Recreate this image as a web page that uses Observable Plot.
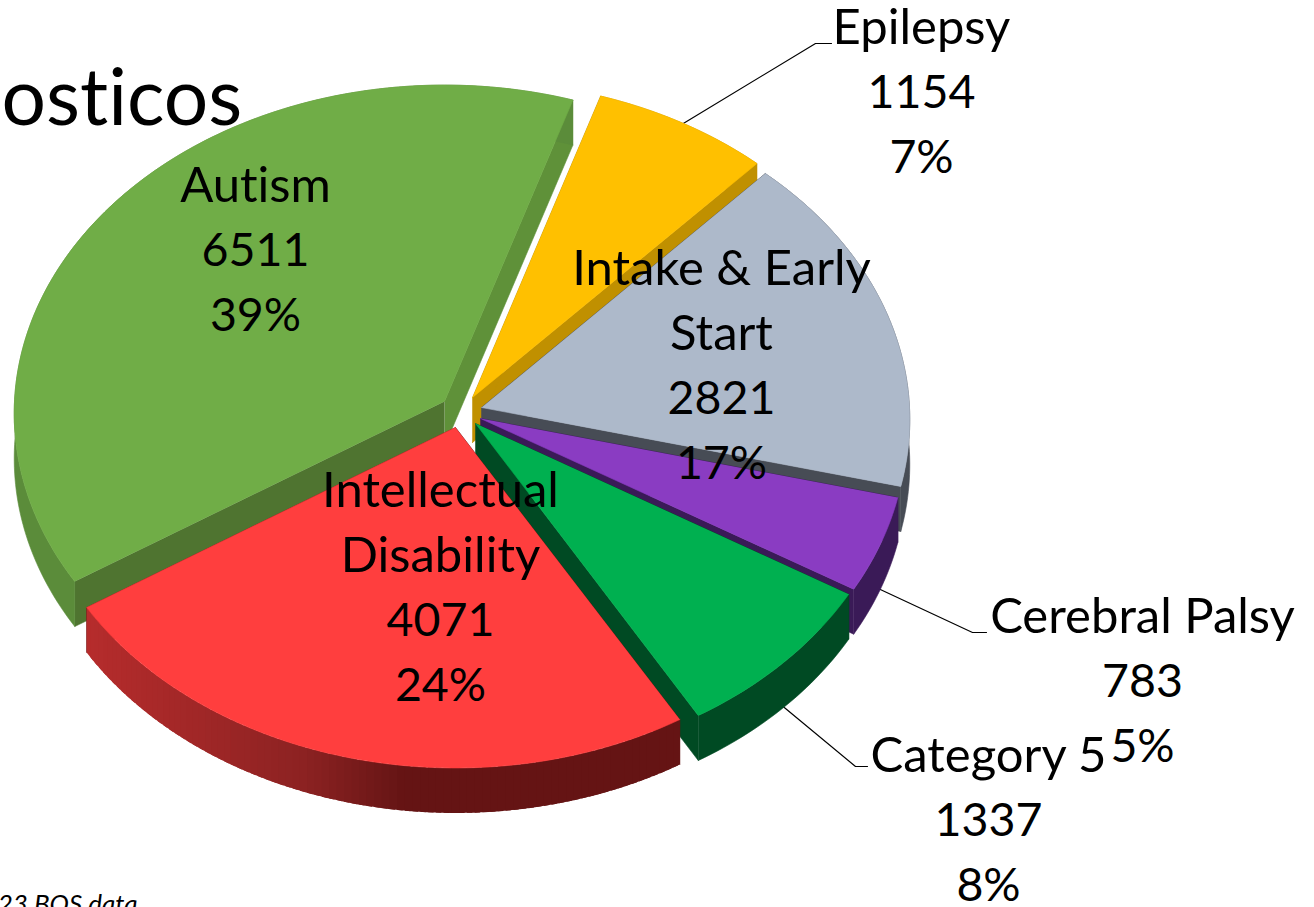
<!DOCTYPE html>
<html>
<head>
<meta charset="utf-8">
<script src="https://cdn.jsdelivr.net/npm/d3@7"></script>
<script src="https://cdn.jsdelivr.net/npm/@observablehq/plot@0.6"></script>
<style>
html,body{margin:0;padding:0;background:#fff;overflow:hidden}
svg{display:block}
svg text{font-variant-ligatures:none}
</style>
</head>
<body>
<div id="chart"></div>
<script>
// ---- data, in the order of the pie (counter-clockwise) ----
const categories = ["Autism", "Intellectual\nDisability", "Category 5", "Cerebral Palsy", "Intake & Early\nStart", "Epilepsy"];
const values = [6511, 4071, 1337, 783, 2821, 1154];

// ---- styles ----
const topColors = ["#70ad47", "#ff3e3e", "#00b050", "#8a3cc2", "#adb9ca", "#ffc000"];
const startWallColors = ["#5f9139", "#651414", "#004a23", "#3a1a57", "#474c55", "#c09000"];
const endWallColors = ["#4f7430", "#651414", "#004a23", "#3a1a57", "#474c55", "#c09000"];
const rimColors = ["#5b8c3a", null, "#004a23", "#3a1a57", "#474c55", "#c09000"];

// ---- layout of the 3-D projection ----
const apexX = [444, 455, 475, 480, 481, 472];
const apexY = [401, 427, 423, 418, 407, 397];
const radiiX = [430, 429, 426, 426, 428, 429];
const paintOrder = [0, 5, 4, 3, 2, 1];
const startAngle = 72, radiusY = 328, perspective = 0.0366, depth = 45;

// label block centres and leader elbows (in picture units)
const labelX = [255, 440, 988, 1142, 721, 921];
const labelY = [251, 588, 821, 682, 366, 93];
const lineStep = 65;
const elbowX = [null, null, 855, 972, null, 815];
const elbowY = [null, null, 766, 632, null, 43];
const leaderEndX = [null, null, 867, 986, null, 831];

const total = d3.sum(values);
const rad = Math.PI / 180;
let acc = startAngle;
const slices = values.map((v, i) => {
  const a0 = acc;
  acc += v / total * 360;
  return {i, a0, a1: acc};
});

function rimPoint(i, deg, dz = 0) {
  const c = Math.cos(deg * rad), s = Math.sin(deg * rad), k = 1 + perspective * s;
  return {x: apexX[i] + radiiX[i] * c / k, y: apexY[i] - radiusY * s / k + dz};
}
function arc(i, a0, a1, dz = 0) {
  const n = Math.max(2, Math.ceil(Math.abs(a1 - a0)));
  return d3.range(n + 1).map(j => rimPoint(i, a0 + (a1 - a0) * j / n, dz));
}

const polygons = [];
let pid = 0;
function addPolygon(points, color, stroke = color) {
  const id = pid++;
  points.forEach(p => polygons.push({x: p.x, y: p.y, id, color, stroke}));
}
const redRim = d3.scaleLinear().domain([88, 300, 400]).range(["#b52c2c", "#8c2222", "#651414"]).clamp(true);

for (const i of paintOrder) {
  const {a0, a1} = slices[i];
  const apex = {x: apexX[i], y: apexY[i]};
  const apexLow = {x: apexX[i], y: apexY[i] + depth};
  // radial walls
  addPolygon([apex, rimPoint(i, a0), rimPoint(i, a0, depth), apexLow], startWallColors[i]);
  addPolygon([apex, rimPoint(i, a1), rimPoint(i, a1, depth), apexLow], endWallColors[i]);
  // outer rim
  if (rimColors[i]) {
    addPolygon([...arc(i, a0, a1), ...arc(i, a1, a0, depth)], rimColors[i]);
  } else {
    const n = Math.ceil(a1 - a0);
    for (let j = 0; j < n; j++) {
      const b0 = a0 + (a1 - a0) * j / n;
      const b1 = Math.min(a1, a0 + (a1 - a0) * (j + 1) / n + 0.7);
      const pts = [...arc(i, b0, b1), ...arc(i, b1, b0, depth)];
      addPolygon(pts, redRim(pts[0].x), "none");
    }
  }
  // top face
  addPolygon([apex, ...arc(i, a0, a1)], topColors[i]);
}

// leader lines
const leaders = [];
slices.forEach(({i, a0, a1}) => {
  if (elbowX[i] == null) return;
  const mid = (a0 + a1) / 2;
  const s = Math.sin(mid * rad);
  const p = rimPoint(i, mid, s < 0 ? depth : 0);
  leaders.push({x: p.x, y: p.y, i}, {x: elbowX[i], y: elbowY[i], i}, {x: leaderEndX[i], y: elbowY[i], i});
});

// one row per text line, so names and numbers can be sized apart
const nameRows = [], numberRows = [];
categories.forEach((c, i) => {
  const names = c.split("\n");
  const numbers = [String(values[i]), `${Math.round(values[i] / total * 100)}%`];
  const n = names.length + numbers.length;
  const yAt = j => labelY[i] + (j - (n - 1) / 2) * lineStep;
  names.forEach((text, j) => nameRows.push({text, x: labelX[i], y: yAt(j)}));
  numbers.forEach((text, j) => numberRows.push({text, x: labelX[i], y: yAt(names.length + j)}));
});

const fontFamily = "Lato, 'Noto Sans', sans-serif";
const plot = Plot.plot({
  width: 1314, height: 907,
  margin: 0,
  x: {domain: [0, 1314], range: [0, 1314], axis: null},
  y: {domain: [0, 907], range: [0, 907], axis: null},
  color: {type: "identity"},
  style: {background: "#fff"},
  marks: [
    Plot.line(leaders, {x: "x", y: "y", z: "i", stroke: "#000", strokeWidth: 1.2, curve: "linear"}),
    Plot.line(polygons, {x: "x", y: "y", z: "id", fill: d => d.color, stroke: d => d.stroke, strokeWidth: 0.6, curve: "linear"}),
    Plot.text(nameRows, {x: "x", y: "y", text: "text", fontFamily, fontSize: 49, fill: "#000", textAnchor: "middle"}),
    Plot.text(numberRows, {x: "x", y: "y", text: "text", fontFamily, fontSize: 46.5, fill: "#000", textAnchor: "middle"}),
    Plot.text(["osticos"], {x: 1, y: 99, text: d => d, fontFamily, fontSize: 78.5, fill: "#000", textAnchor: "start"}),
    Plot.text(["23 BOS data"], {x: 137, y: 904, text: d => d, fontFamily, fontSize: 26, fontStyle: "italic", fill: "#000", textAnchor: "end"})
  ]
});
document.getElementById("chart").appendChild(plot);
</script>
</body>
</html>
